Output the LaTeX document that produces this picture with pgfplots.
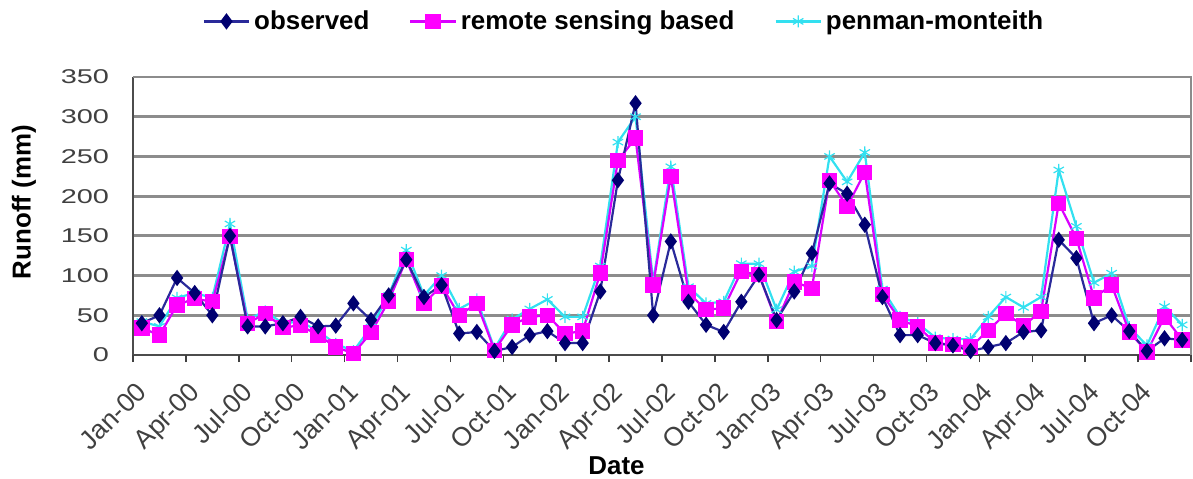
\documentclass[border=0pt]{standalone}
\usepackage{pgfplots}
\pgfplotsset{compat=1.18}
\usepackage{pgfplotstable}
\usepackage{fontspec}
\setmainfont{Liberation Sans}
\newfontfamily\tickfont[FakeStretch=1.45]{Liberation Sans}
\definecolor{obs}{HTML}{000070}
\definecolor{obsline}{HTML}{2A2A9A}
\definecolor{rsb}{HTML}{FF00FF}
\definecolor{pm}{HTML}{33E0F0}
\definecolor{gridc}{HTML}{8C8C8C}

\pgfplotstableread{
i O R P
0 40 34 42
1 50 25 36
2 97 63 72
3 78 71 78
4 50 67 72
5 150 149 165
6 36 40 45
7 36 52 55
8 40 35 40
9 48 37 42
10 36 25 30
11 37 10 14
12 65 2 5
13 44 28 35
14 75 68 75
15 120 120 132
16 73 65 75
17 88 87 100
18 27 50 58
19 29 65 70
20 5 6 8
21 10 38 45
22 25 48 58
23 30 50 70
24 15 27 48
25 15 30 48
26 80 103 112
27 220 245 268
28 317 273 300
29 50 88 92
30 143 225 237
31 67 78 86
32 38 57 65
33 29 59 67
34 67 105 115
35 101 101 115
36 44 42 57
37 80 92 105
38 128 84 112
39 216 220 250
40 203 187 218
41 164 230 255
42 73 76 83
43 25 44 48
44 25 36 40
45 15 15 22
46 12 13 20
47 5 10 20
48 10 31 48
49 15 52 73
50 29 37 60
51 31 55 73
52 145 191 233
53 122 147 162
54 40 72 91
55 50 88 103
56 30 29 35
57 5 4 12
58 21 48 61
59 19 19 38
}\datatable

\begin{document}
\begin{tikzpicture}
\path[use as bounding box] (-66.5bp,-62bp) rectangle (530bp,177.5bp);
\begin{axis}[
  scale only axis,
  width=529bp, height=139bp,
  xmin=-0.5, xmax=59.5,
  ymin=0, ymax=350,
  ytick={0,50,...,350},
  xtick={0,3,...,57},
  xticklabels={Jan-00,Apr-00,Jul-00,Oct-00,Jan-01,Apr-01,Jul-01,Oct-01,Jan-02,Apr-02,Jul-02,Oct-02,Jan-03,Apr-03,Jul-03,Oct-03,Jan-04,Apr-04,Jul-04,Oct-04},
  extra x ticks={-0.5,2.5,...,59.5},
  extra x tick labels={},
  major tick length=0pt,
  /pgf/number format/assume math mode=true,
  ytick style={draw=black!75, line width=0.8pt},
  every extra x tick/.style={major tick length=3.5bp, tick align=outside, tick style={draw=black!75, line width=0.8pt}},
  yticklabel style={font=\tickfont\fontsize{10}{11}\selectfont, text=black!75, xshift=-8.5bp},
  xticklabel style={font=\fontsize{13.3}{15}\selectfont, text=black!75, xshift=-3.5bp, yshift=-8bp, rotate=45, anchor=north east},
  ymajorgrids,
  grid style={draw=gridc, line width=1.4pt},
  axis line style={draw=black!70, line width=1pt},
  axis x line*=bottom, axis y line*=left,
  xlabel={\bfseries Date},
  ylabel={\bfseries Runoff (mm)},
  xlabel style={font=\fontsize{13}{15}\selectfont, at={(axis description cs:0.457,-0.40)}, anchor=center},
  ylabel style={font=\fontsize{13}{15}\selectfont, at={(axis description cs:-0.103,0.55)}, anchor=center},
  legend columns=3,
  reverse legend,
  legend style={at={(0.465,1.2)}, anchor=center, draw=none, fill=none,
    font=\bfseries\fontsize{13}{15}\selectfont,
    /tikz/every even column/.append style={column sep=18bp}},
  legend cell align=left,
  legend image code/.code={\draw[mark repeat=2,mark phase=2] plot coordinates {(0cm,0cm) (0.4cm,0cm) (0.8cm,0cm)};},
  clip=false,
]
\draw[draw=gridc, line width=1pt] (axis cs:-0.5,350) -- (axis cs:59.5,350) -- (axis cs:59.5,0);
\addplot[pm, line width=1.1pt, mark=asterisk, mark size=3bp, mark options={solid, line width=0.6pt}] table[x=i,y=P]{\datatable};
\addlegendentry{penman-monteith}
\addplot[rsb!85!blue, line width=1.1pt, mark=square*, mark size=3.3bp, mark options={solid, fill=rsb, draw=rsb}] table[x=i,y=R]{\datatable};
\addlegendentry{remote sensing based}
\addplot[obsline, line width=1.1pt, mark=diamond*, mark size=3.2bp, mark options={solid, fill=obs, draw=obs}] table[x=i,y=O]{\datatable};
\addlegendentry{observed}
\end{axis}
\end{tikzpicture}
\end{document}
